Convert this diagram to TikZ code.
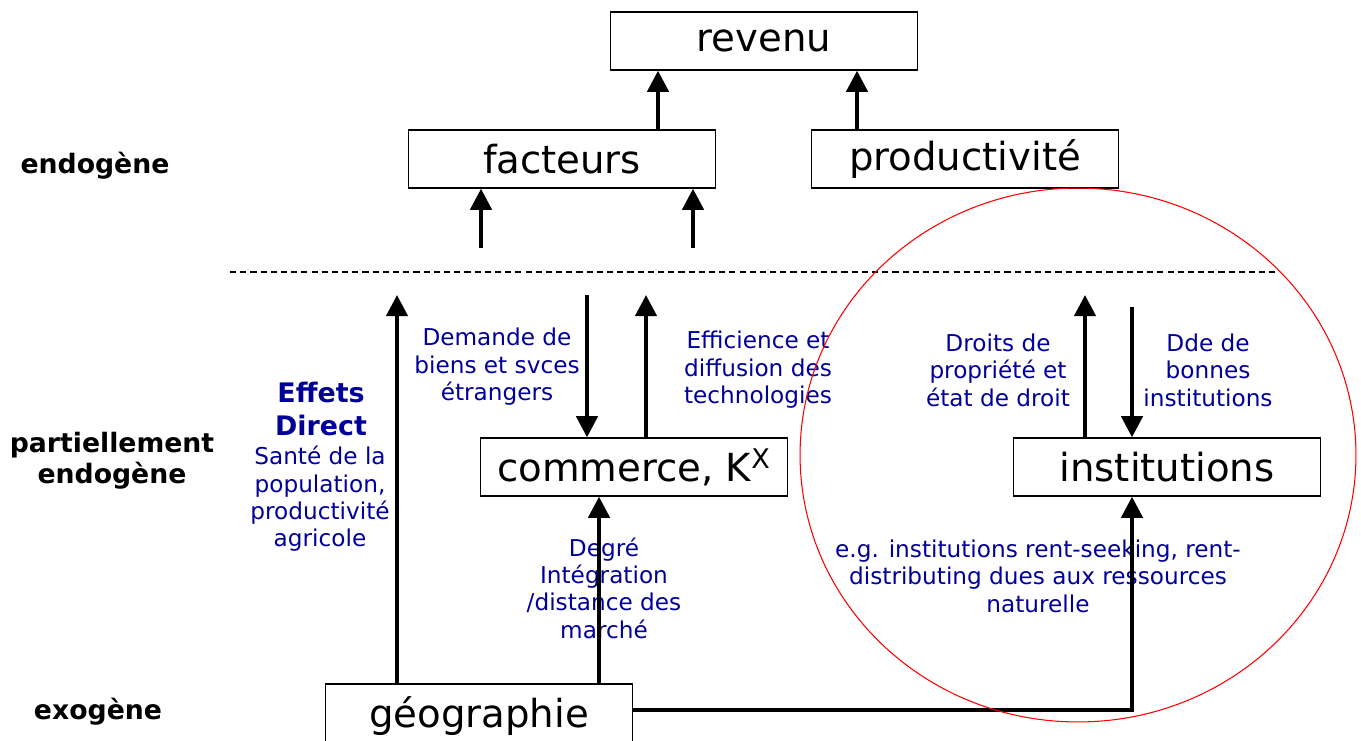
\documentclass[tikz,border=0pt]{standalone}
\usepackage{fontspec}
\setmainfont{DejaVu Sans}
\usetikzlibrary{arrows.meta}
\definecolor{navy}{RGB}{0,0,153}
\tikzset{
  box/.style={draw, line width=0.8pt, minimum width=6.14cm, minimum height=1.16cm, inner sep=0pt, font=\fontsize{22}{26}\selectfont},
  level/.style={align=center, font=\fontsize{15.2}{17.6}\selectfont\bfseries},
  effet/.style={align=center, text=navy, font=\fontsize{13.2}{15.6}\selectfont},
  arr/.style={line width=2.3pt, -{Triangle[width=12pt,length=12pt]}},
}
\begin{document}
\begin{tikzpicture}[x=0.02cm, y=-0.02cm]
\useasboundingbox (0,0) rectangle (1361,740);
% boites
\node[box] (revenu) at (764,41) {revenu};
\node[box] (facteurs) at (562,159) {facteurs};
\node[box] (productivite) at (965,159) {productivité};
\node[box] (commerce) at (634,467) {commerce, K\textsuperscript{X}};
\node[box] (institutions) at (1167,467) {institutions};
\node[box, minimum height=1.28cm] (geographie) at (479,716) {géographie};
% niveaux
\node[level] (endogene) at (95,166) {endogène};
\node[level] (partiel) at (112,461) {partiellement\\endogène};
\node[level] (exogene) at (98,712) {exogène};
\draw[dash pattern=on 3.5pt off 2.3pt, line width=0.6pt] (230,272) coordinate (d1) -- (1275,272) coordinate (d2);
% textes
\node[effet, font=\fontsize{15.3}{19.3}\selectfont\bfseries] (effets) at (321,409) {Effets\\Direct};
\node[effet] (sante) at (320,499) {Santé de la\\population,\\productivité\\agricole};
\node[effet] (demande) at (497,367) {Demande de\\biens et svces\\étrangers};
\node[effet] (efficience) at (758,370) {Efficience et\\diffusion des\\technologies};
\node[effet] (droits) at (998,370) {Droits de\\propriété et\\état de droit};
\node[effet] (dde) at (1208,370) {Dde de\\bonnes\\institutions};
\node[effet] (degre) at (604,588) {Degré\\Intégration\\/distance des\\marché};
\node[effet] (rent) at (1038,576) {e.g. institutions rent-seeking, rent-\\distributing dues aux ressources\\naturelle};
% fleches
\coordinate (r1) at (658,0);
\coordinate (r2) at (857,0);
\draw[arr] (facteurs.north -| r1) -- (revenu.south -| r1);
\draw[arr] (productivite.north -| r2) -- (revenu.south -| r2);
\coordinate (f1) at (481,248);
\coordinate (f2) at (693,248);
\draw[arr] (f1) -- (facteurs.south -| f1);
\draw[arr] (f2) -- (facteurs.south -| f2);
\coordinate (g1) at (397,295);
\draw[arr] (geographie.north -| g1) -- (g1);
\coordinate (c1) at (587,295);
\coordinate (c2) at (646,295);
\draw[arr] (c1) -- (commerce.north -| c1);
\draw[arr] (commerce.north -| c2) -- (c2);
\coordinate (g2) at (599,0);
\draw[arr] (geographie.north -| g2) -- (commerce.south -| g2);
\coordinate (i1) at (1085,295);
\coordinate (i2) at (1132,307);
\coordinate (g3) at (0,710);
\draw[arr] (institutions.north -| i1) -- (i1);
\draw[arr] (i2) -- (institutions.north -| i2);
\draw[arr] (geographie.east |- g3) -| (institutions.south -| i2);
% cercle
\draw[red, line width=0.6pt] (1078,455) ellipse [x radius=5.56cm, y radius=5.34cm];
\end{tikzpicture}
\end{document}
